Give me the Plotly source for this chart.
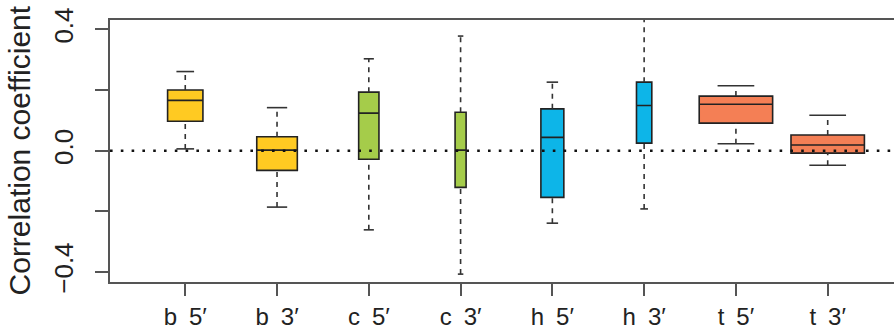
import plotly.graph_objects as go

categories = ["b 5′", "b 3′", "c 5′", "c 3′", "h 5′", "h 3′", "t 5′", "t 3′"]
lower_whisker = [0.006, -0.186, -0.261, -0.407, -0.239, -0.192, 0.023, -0.048]
q1 = [0.097, -0.065, -0.028, -0.121, -0.154, 0.025, 0.091, -0.008]
median = [0.166, 0.002, 0.124, 0.002, 0.044, 0.149, 0.153, 0.019]
q3 = [0.200, 0.046, 0.193, 0.127, 0.138, 0.226, 0.180, 0.052]
upper_whisker = [0.261, 0.142, 0.303, 0.378, 0.226, 0.45, 0.214, 0.117]
box_widths = [0.385, 0.442, 0.221, 0.12, 0.25, 0.167, 0.80, 0.80]
colors = ["#FFCA22", "#FFCA22", "#A5CC4A", "#A5CC4A",
          "#0DB5E8", "#0DB5E8", "#F47F55", "#F47F55"]

positions = list(range(1, len(categories) + 1))
tick_text = [c.replace(" ", "\u2002") for c in categories]

fig = go.Figure()

# whiskers (dashed) and caps (solid)
for i, p in enumerate(positions):
    for a, b in [(q3[i], upper_whisker[i]), (lower_whisker[i], q1[i])]:
        fig.add_trace(go.Scatter(
            x=[p, p], y=[a, b], mode="lines",
            line=dict(color="#333333", width=1.6, dash="5px,5px"),
            hoverinfo="skip", showlegend=False))
    half = box_widths[i] / 4
    for v in (upper_whisker[i], lower_whisker[i]):
        fig.add_trace(go.Scatter(
            x=[p - half, p + half], y=[v, v], mode="lines",
            line=dict(color="#333333", width=1.6),
            hoverinfo="skip", showlegend=False))

# boxes
for i, p in enumerate(positions):
    fig.add_trace(go.Box(
        x=[p], q1=[q1[i]], median=[median[i]], q3=[q3[i]],
        lowerfence=[q1[i]], upperfence=[q3[i]],
        width=box_widths[i], whiskerwidth=0,
        fillcolor=colors[i], line=dict(color="#222222", width=1.6),
        boxpoints=False, showlegend=False, name=categories[i]))

# dotted reference line at 0
fig.add_shape(type="line", xref="paper", x0=0, x1=1, yref="y", y0=0, y1=0,
              line=dict(color="#111111", width=2.6, dash="2.6px,8.2px"),
              layer="above")

fig.add_annotation(text="Correlation coefficient", xref="paper", yref="y",
                   x=-0.1145, y=0.0, textangle=-90, showarrow=False,
                   xanchor="center", yanchor="middle",
                   font=dict(size=30, color="#222222"))

fig.update_layout(
    width=898, height=331,
    margin=dict(l=110, r=0, t=20, b=49, autoexpand=False),
    plot_bgcolor="white", paper_bgcolor="white",
    font=dict(family="Liberation Sans, Arial, sans-serif", color="#222222"),
    boxmode="overlay",
)
fig.update_xaxes(
    range=[0.18, 8.766], tickvals=positions, ticktext=tick_text,
    showgrid=False, zeroline=False, automargin=False,
    showline=True, mirror=True, linecolor="#555555", linewidth=1.8,
    ticks="outside", ticklen=12, tickwidth=1.5, tickcolor="#555555",
    tickfont=dict(size=24), ticklabelstandoff=0,
)
fig.update_yaxes(
    range=[-0.433, 0.431], tickvals=[-0.4, -0.2, 0.0, 0.2, 0.4],
    ticktext=["−0.4", "", "0.0", "", "0.4"],
    showgrid=False, zeroline=False, automargin=False,
    showline=True, linecolor="#555555", linewidth=1.8,
    ticks="outside", ticklen=13, tickwidth=1.5, tickcolor="#555555",
    tickfont=dict(size=26), tickangle=-90, ticklabelstandoff=12,
)

fig.write_html(
    "out.html",
    config={"displayModeBar": False},
    post_script=("document.documentElement.style.overflow='hidden';"
                 "document.body.style.margin='0';"
                 "document.body.style.overflow='hidden';"),
)
